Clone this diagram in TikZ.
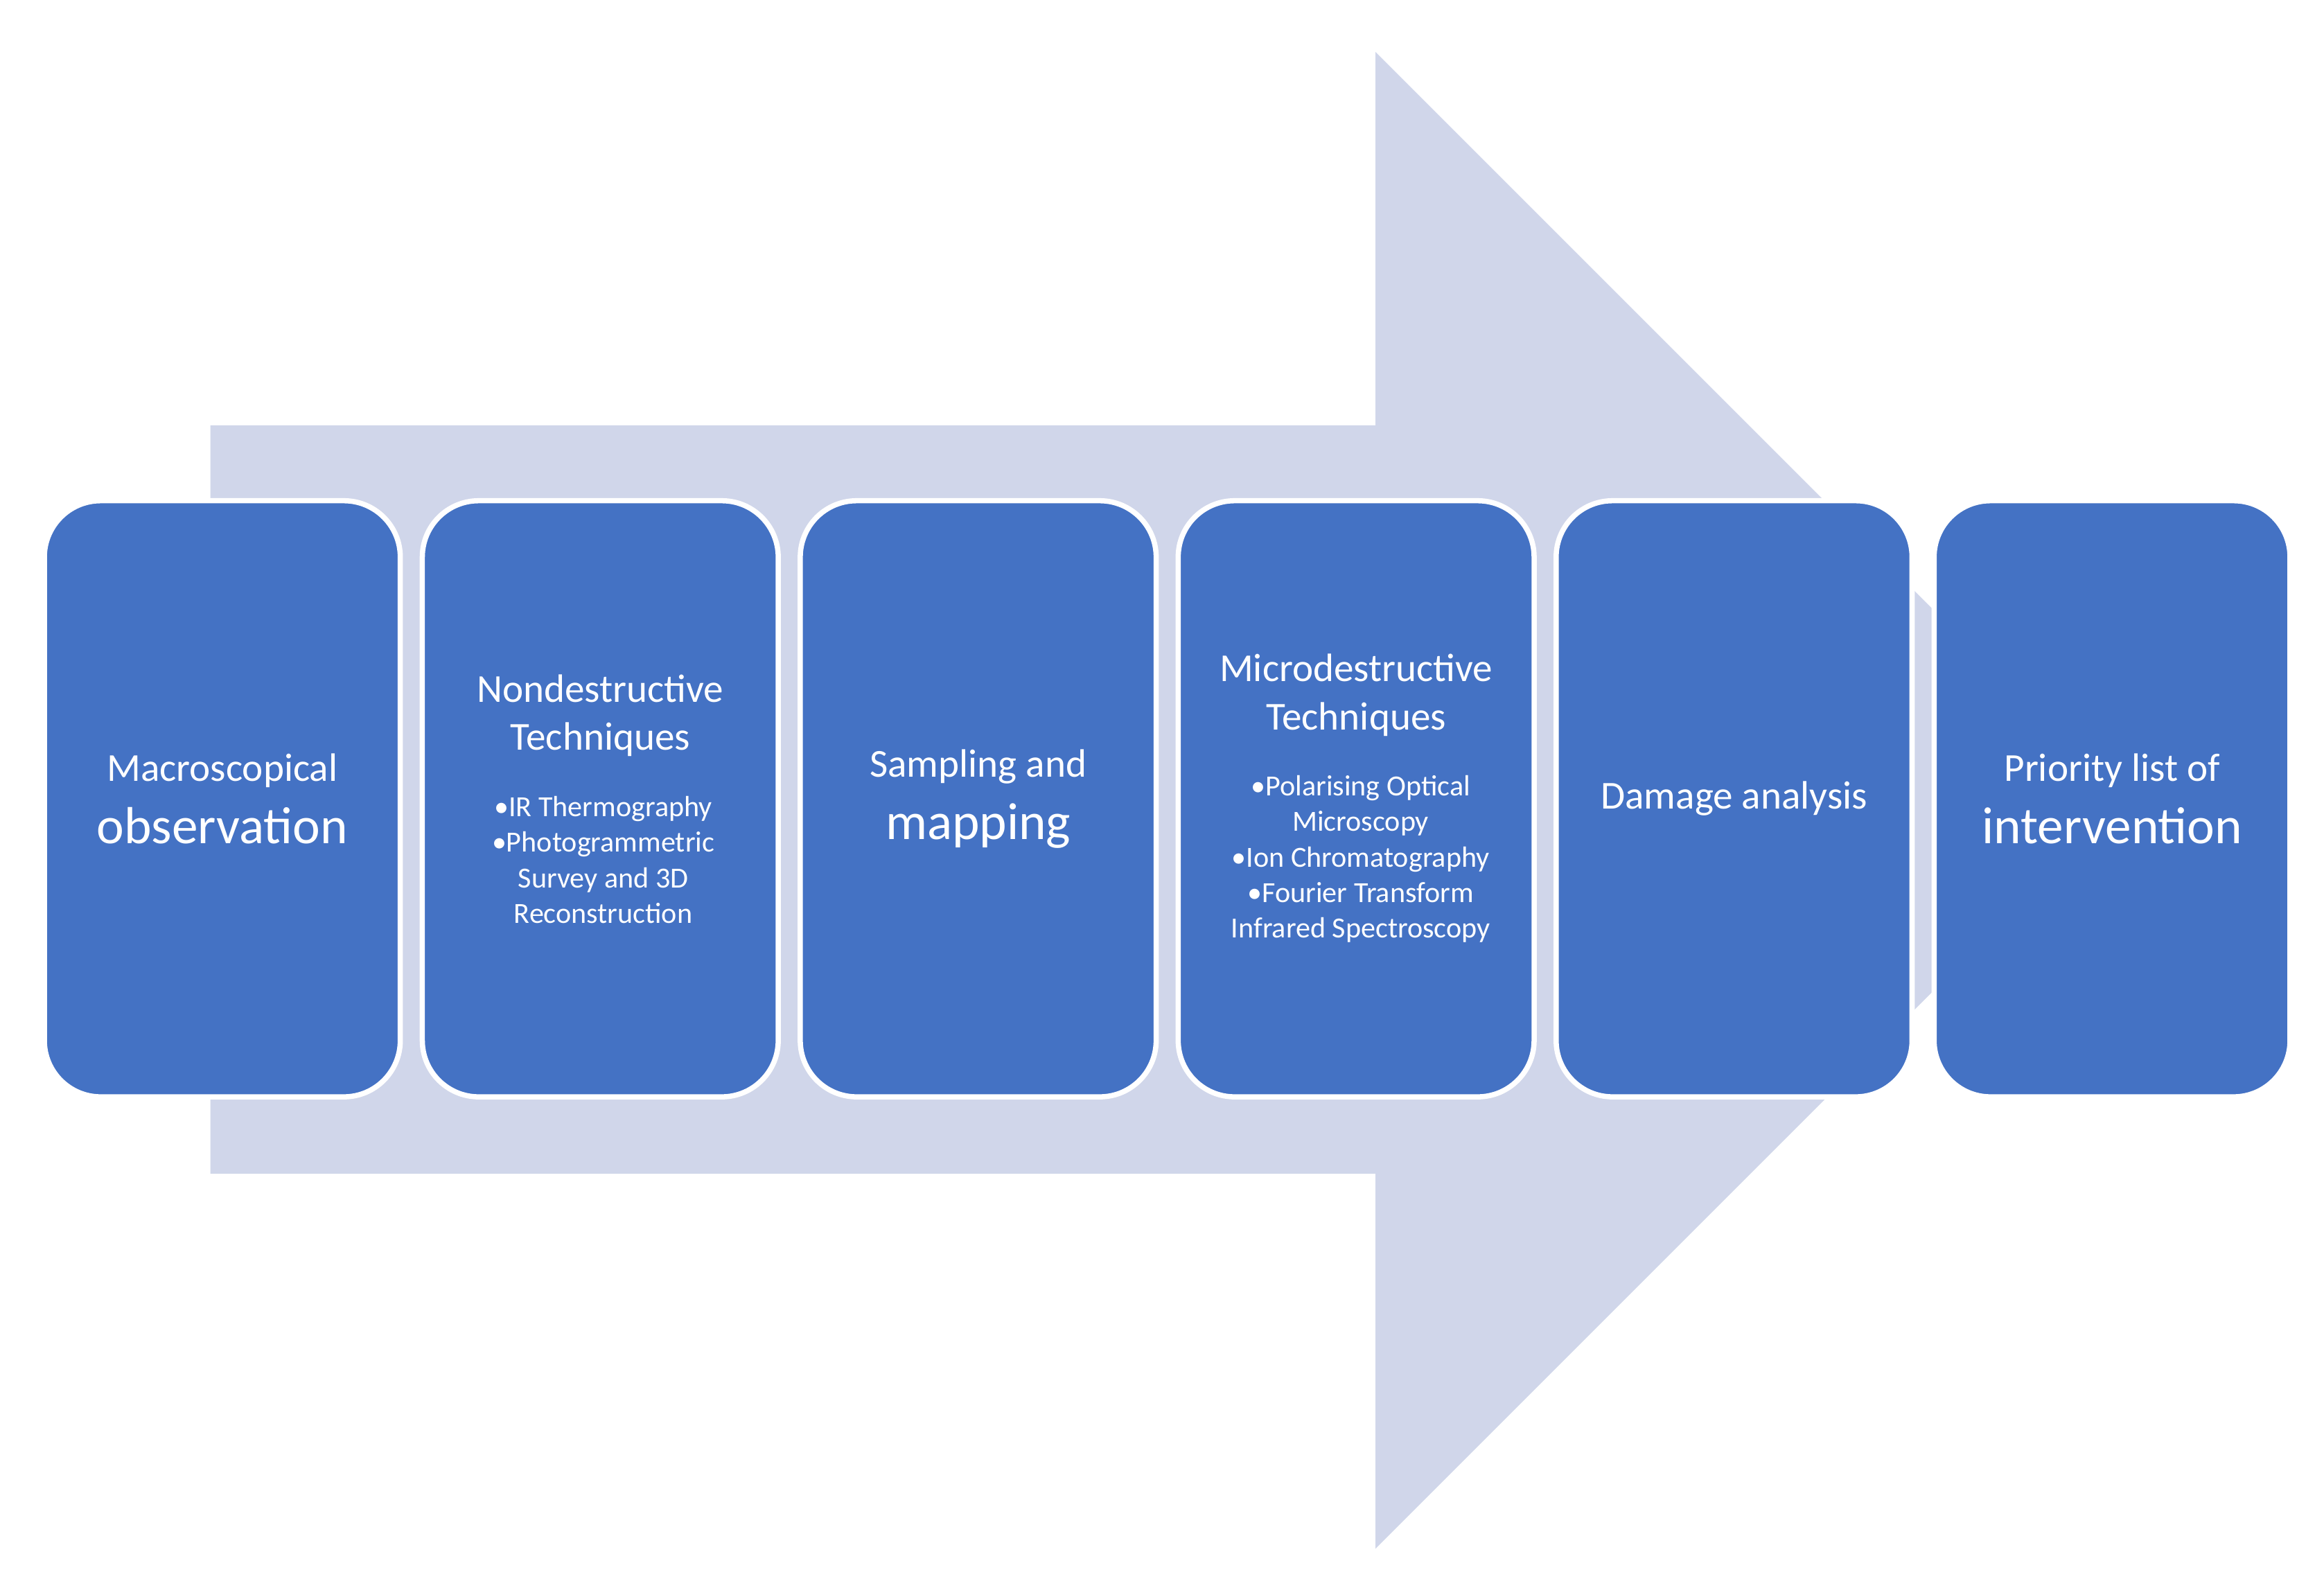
\documentclass[tikz,border=0pt]{standalone}
\usepackage{fontspec}
\setmainfont{Carlito}
\definecolor{arrowc}{HTML}{D0D6EA}
\definecolor{boxc}{HTML}{4472C4}
\begin{document}
\begin{tikzpicture}[x=0.01cm,y=-0.01cm,
  stepbox/.style={draw=white,line width=1pt,fill=boxc,rounded corners=0.38cm,minimum width=2.4cm,minimum height=4.02cm,text=white,align=center,inner sep=0pt},
  ttl/.style={font=\fontsize{7.6}{9.2}\selectfont},
  bul/.style={font=\fontsize{5.6}{6.8}\selectfont}]
\useasboundingbox (0,0) rectangle (1568,1065);
\fill[arrowc] (142,287) -- (928,287) -- (928,35) -- (1433,540) -- (928,1045) -- (928,792) -- (142,792) -- cycle;
\node[stepbox] (a) at (150,539) {\fontsize{7.6}{9.2}\selectfont Macroscopical\\observation};
\node[stepbox] (b) at (405,539) {};
\node[align=center,text=white,ttl] (bt) at (405,483) {Nondestructive\\Techniques};
\node[align=center,text=white,bul,anchor=north] (bb) at (407,525) {\textbullet IR Thermography\\\textbullet Photogrammetric\\Survey and 3D\\Reconstruction};
\node[stepbox] (c) at (660,539) {\fontsize{7.6}{9.2}\selectfont Sampling and\\mapping};
\node[stepbox] (d) at (915,539) {};
\node[align=center,text=white,ttl] (dt) at (915,469) {Microdestructive\\Techniques};
\node[align=center,text=white,bul,anchor=north] (db) at (918,511) {\textbullet Polarising Optical\\Microscopy\\\textbullet Ion Chromatography\\\textbullet Fourier Transform\\Infrared Spectroscopy};
\node[stepbox] (e) at (1170,539) {\fontsize{7.6}{9.2}\selectfont Damage analysis};
\node[stepbox] (f) at (1425,539) {\fontsize{7.6}{9.2}\selectfont Priority list of\\intervention};
\end{tikzpicture}
\end{document}
